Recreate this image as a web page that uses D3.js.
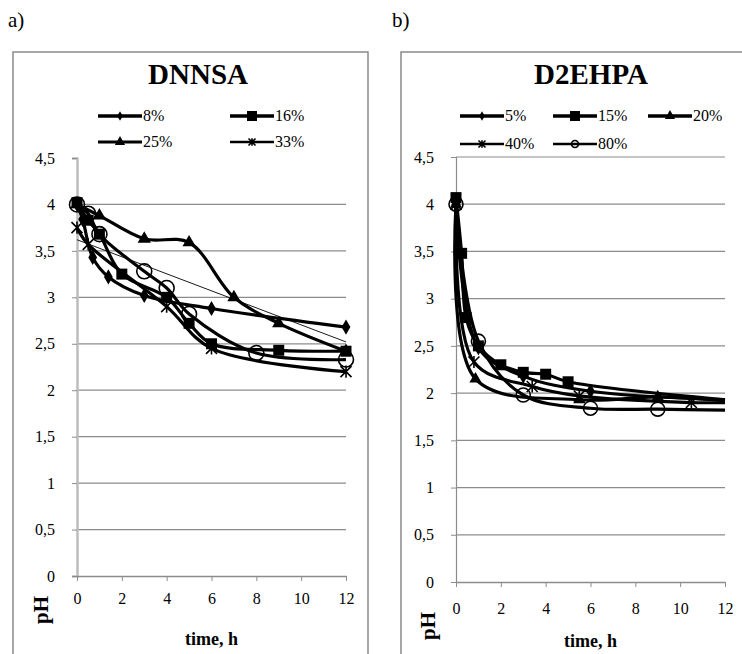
<!DOCTYPE html>
<html><head><meta charset="utf-8">
<script src="https://cdn.jsdelivr.net/npm/d3@7"></script>
<style>body{margin:0;background:#fff}svg{display:block}svg text{font-family:"Liberation Serif","Times New Roman",serif !important;fill:#000}</style>
</head><body>
<svg id="c" width="742" height="654"></svg>
<script>
// ---------- data ----------
const xTicks = [0, 2, 4, 6, 8, 10, 12];
const yTicks = [0, 0.5, 1, 1.5, 2, 2.5, 3, 3.5, 4, 4.5];
const yTickLabels = ["0", "0,5", "1", "1,5", "2", "2,5", "3", "3,5", "4", "4,5"];

// panel a) DNNSA  [time h, pH]
const dnnsaNames = ["8%", "16%", "25%", "33%"];
const dnnsa8  = [[0,4.0],[0.25,3.84],[0.7,3.43],[1.4,3.22],[3,3.02],[6,2.88],[12,2.68]];
const dnnsa16 = [[0,4.02],[0.5,3.83],[1,3.68],[2,3.25],[4,3.0],[5,2.72],[6,2.5],[9,2.43],[12,2.42]];
const dnnsa25 = [[0,4.0],[1,3.88],[3,3.63],[5,3.59],[7,3.0],[9,2.72],[12,2.42]];
const dnnsa33 = [[0,3.75],[0.5,3.57],[4,2.9],[6,2.45],[12,2.2]];
const dnnsaCircle = [[0,4.0],[0.5,3.9],[1,3.68],[3,3.28],[4,3.1],[5,2.82],[8,2.4],[12,2.33]];
const dnnsaTrend = [[0,3.62],[12,2.52]];

// panel b) D2EHPA  [time h, pH]
const d2ehpaNames = ["5%", "15%", "20%", "40%", "80%"];
const d2ehpa5  = [[0,4.0],[1,2.48],[3,2.18],[6,2.02],[12,1.93]];
const d2ehpa15 = [[0,4.07],[0.25,3.48],[0.45,2.8],[1,2.5],[2,2.3],[3,2.22],[4,2.2],[5,2.12],[12,1.93]];
const d2ehpa20 = [[0,4.0],[0.87,2.15],[5.5,1.93],[9,1.96],[12,1.92]];
const d2ehpa40 = [[0,4.0],[0.8,2.33],[3.4,2.07],[5.5,1.97],[10.5,1.9],[12,1.9]];
const d2ehpa80 = [[0,4.0],[1,2.55],[3,1.98],[6,1.84],[9,1.83],[12,1.82]];

// ---------- drawing ----------
const svg = d3.select("#c");
const SERIF = '"Liberation Serif", "Times New Roman", serif';

function markerPath(type, s) {
  if (type === "asterisk") {
    const h = s / 2;
    return `M${-h},${-h}L${h},${h}M${-h},${h}L${h},${-h}M0,${-h*1.1}L0,${h*1.1}`;
  }
  const sym = {diamond: d3.symbolDiamond, square: d3.symbolSquare, triangle: d3.symbolTriangle, circle: d3.symbolCircle}[type];
  return d3.symbol(sym, s * s * (type === "circle" ? 0.785 : (type === "diamond" ? 0.55 : (type === "triangle" ? 0.45 : 1))))();
}
function drawMarker(g, type, x, y, s) {
  const p = g.append("path").attr("d", markerPath(type, s)).attr("transform", `translate(${x},${y})`);
  if (type === "circle" || type === "asterisk") p.attr("fill", "none").attr("stroke", "#000").attr("stroke-width", 1.6);
  else p.attr("fill", "#000");
}
function txt(g) { return g.append("text").style("font-family", SERIF).attr("fill", "#000"); }

function panel(cfg) {
  const g = svg.append("g");
  g.append("rect").attr("x", cfg.frame[0]).attr("y", cfg.frame[1]).attr("width", cfg.frame[2]).attr("height", cfg.frame[3])
    .attr("fill", "none").attr("stroke", "#8a8a8a").attr("stroke-width", 1.5);
  txt(g).attr("x", cfg.letter[0]).attr("y", cfg.letter[1]).attr("font-size", 21).text(cfg.letterText);
  txt(g).attr("x", cfg.titleX).attr("y", 84).attr("text-anchor", "middle").attr("font-size", 29).attr("font-weight", "bold").text(cfg.title);

  const x = d3.scaleLinear().domain([0, 12]).range([cfg.x0, cfg.x1]);
  const y = d3.scaleLinear().domain([0, 4.5]).range([cfg.y0, cfg.y1]);

  g.selectAll(".grid").data(yTicks.filter(v => v > 0 && (cfg.topGrid || v < 4.5))).enter().append("line")
    .attr("x1", cfg.x0).attr("x2", cfg.x1).attr("y1", d => y(d)).attr("y2", d => y(d))
    .attr("stroke", "#8c8c8c").attr("stroke-width", 1.2);

  const ya = g.append("g").attr("transform", `translate(${cfg.x0},0)`)
    .call(d3.axisLeft(y).tickValues(yTicks).tickSize(5).tickPadding(cfg.yPad).tickFormat((d, i) => yTickLabels[i]));
  ya.attr("font-family", null);
  ya.select(".domain").attr("stroke", cfg.yAxisColor).attr("stroke-width", cfg.yAxisWidth);
  ya.selectAll(".tick line").attr("stroke", "#8c8c8c");
  ya.selectAll(".tick text").attr("font-size", 16).style("font-family", SERIF).attr("fill", "#000");

  const xa = g.append("g").attr("transform", `translate(0,${cfg.y0})`)
    .call(d3.axisBottom(x).tickValues(xTicks).tickSize(5).tickPadding(cfg.xPad).tickSizeOuter(0));
  xa.attr("font-family", null);
  xa.select(".domain").attr("stroke", "#8c8c8c").attr("stroke-width", 1.5);
  xa.selectAll(".tick line").attr("stroke", "#8c8c8c");
  xa.selectAll(".tick text").attr("font-size", 16).style("font-family", SERIF).attr("fill", "#000");

  txt(g).attr("transform", `translate(${cfg.phPos[0]},${cfg.phPos[1]}) rotate(-90)`).attr("text-anchor", "middle")
    .attr("dominant-baseline", "central").attr("font-size", 21).attr("font-weight", "bold").text("pH");
  txt(g).attr("x", (cfg.x0 + cfg.x1) / 2).attr("y", cfg.timeY).attr("text-anchor", "middle")
    .attr("font-size", 18).attr("font-weight", "bold").text("time, h");

  const line = d3.line().x(d => x(d[0])).y(d => y(d[1])).curve(d3.curveCatmullRom.alpha(0.5));
  if (cfg.trend) {
    g.append("path").attr("d", d3.line().x(d => x(d[0])).y(d => y(d[1]))(cfg.trend)).attr("fill", "none").attr("stroke", "#000").attr("stroke-width", 0.9);
  }
  cfg.series.forEach(s => {
    g.append("path").attr("d", line(s.data)).attr("fill", "none").attr("stroke", "#000").attr("stroke-width", 3.2)
      .attr("stroke-linejoin", "round");
  });
  cfg.series.forEach(s => {
    s.data.forEach(d => {
      if (cfg.endMarkers || d[0] < 12) drawMarker(g, s.marker, x(d[0]), y(d[1]), s.size);
    });
  });

  cfg.legend.forEach(l => {
    g.append("line").attr("x1", l.x).attr("x2", l.x + 44).attr("y1", l.y).attr("y2", l.y).attr("stroke", "#000").attr("stroke-width", l.w);
    drawMarker(g, l.marker, l.x + 22, l.y, l.size);
    txt(g).attr("x", l.x + 45).attr("y", l.y + 5).attr("font-size", 16).text(l.name);
  });
}

panel({
  frame: [13, 52, 355, 640], letter: [8, 27], letterText: "a)", title: "DNNSA", titleX: 198,
  x0: 77, x1: 346, y0: 576, y1: 158, topGrid: false, yAxisColor: "#bdbdbd", yAxisWidth: 2.5, yPad: 17, xPad: 12,
  phPos: [41, 610], timeY: 645, endMarkers: true,
  trend: dnnsaTrend,
  series: [
    {data: dnnsa8, marker: "diamond", size: 11},
    {data: dnnsa16, marker: "square", size: 11},
    {data: dnnsa25, marker: "triangle", size: 13},
    {data: dnnsa33, marker: "asterisk", size: 11},
    {data: dnnsaCircle, marker: "circle", size: 15}
  ],
  legend: [
    {name: dnnsaNames[0], marker: "diamond", x: 98, y: 116, size: 7, w: 3.5},
    {name: dnnsaNames[1], marker: "square", x: 230, y: 116, size: 10, w: 3.5},
    {name: dnnsaNames[2], marker: "triangle", x: 98, y: 142, size: 10, w: 3},
    {name: dnnsaNames[3], marker: "asterisk", x: 230, y: 142, size: 7, w: 2.5}
  ]
});

panel({
  frame: [401, 52, 360, 640], letter: [392, 27], letterText: "b)", title: "D2EHPA", titleX: 591,
  x0: 456, x1: 725, y0: 582, y1: 157, topGrid: true, yAxisColor: "#8c8c8c", yAxisWidth: 1.2, yPad: 17, xPad: 16,
  phPos: [428, 626], timeY: 647, endMarkers: false,
  series: [
    {data: d2ehpa5, marker: "diamond", size: 11},
    {data: d2ehpa15, marker: "square", size: 11},
    {data: d2ehpa20, marker: "triangle", size: 12},
    {data: d2ehpa40, marker: "asterisk", size: 11},
    {data: d2ehpa80, marker: "circle", size: 14}
  ],
  legend: [
    {name: d2ehpaNames[0], marker: "diamond", x: 460, y: 116, size: 7, w: 3.5},
    {name: d2ehpaNames[1], marker: "square", x: 553, y: 116, size: 10, w: 3.5},
    {name: d2ehpaNames[2], marker: "triangle", x: 648, y: 116, size: 10, w: 3.5},
    {name: d2ehpaNames[3], marker: "asterisk", x: 460, y: 144, size: 7, w: 2.5},
    {name: d2ehpaNames[4], marker: "circle", x: 553, y: 144, size: 7, w: 2.5}
  ]
});
</script>
</body></html>
